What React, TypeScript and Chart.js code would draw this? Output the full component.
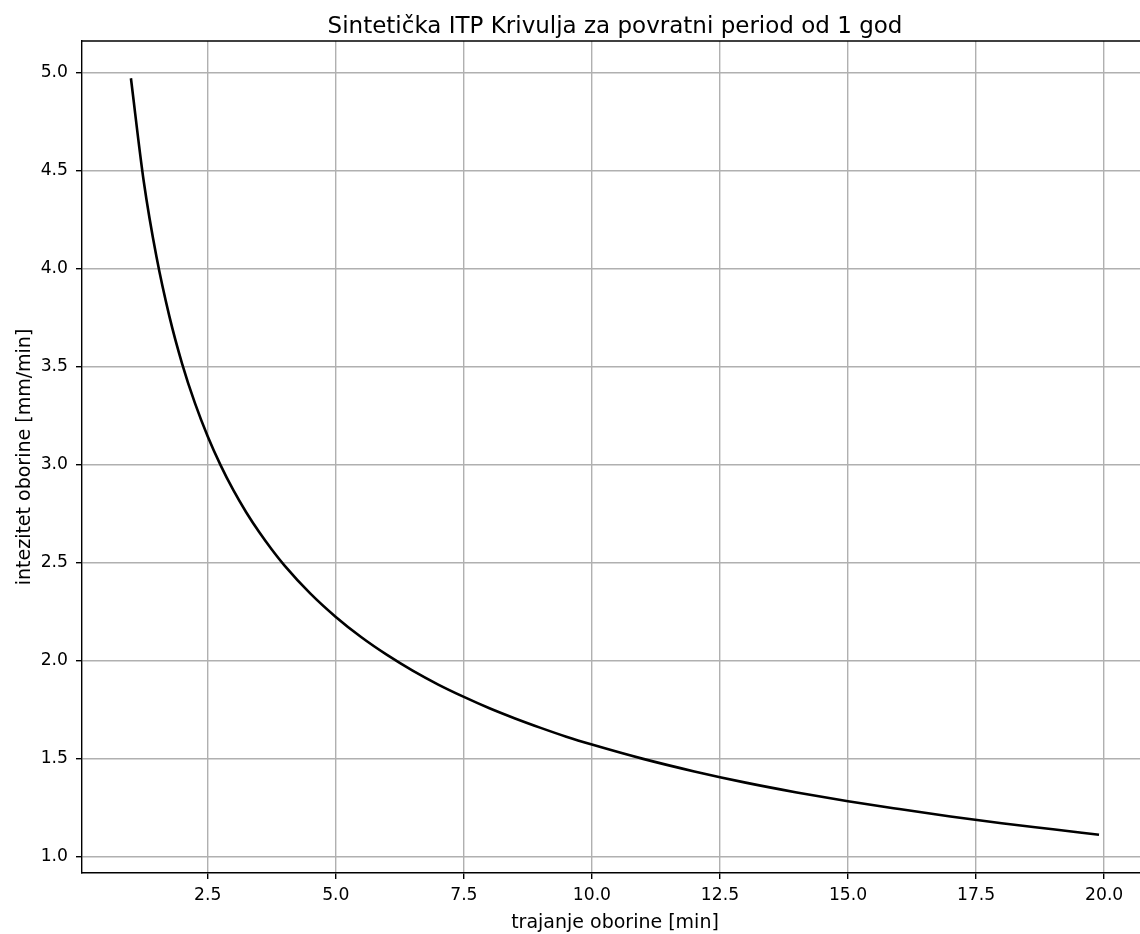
import React, { useEffect, useRef } from "react";
import { Chart, registerables } from "chart.js";

Chart.register(...registerables);

// ---- data ----
const durations = [1.0, 1.25, 1.5, 1.75, 2.0, 2.25, 2.5, 2.75, 3.0, 3.25, 3.5, 3.75, 4.0, 4.5, 5.0, 5.5, 6.0, 6.5, 7.0, 7.5, 8.0, 8.5, 9.0, 9.5, 10, 11, 12, 13, 14, 15, 16, 17, 18, 19, 19.9];
const intensities = [4.970, 4.445, 4.058, 3.757, 3.514, 3.313, 3.143, 2.997, 2.869, 2.757, 2.657, 2.567, 2.485, 2.343, 2.223, 2.119, 2.029, 1.949, 1.878, 1.815, 1.757, 1.705, 1.657, 1.612, 1.572, 1.499, 1.435, 1.378, 1.328, 1.283, 1.243, 1.205, 1.171, 1.140, 1.112];
const xTickValues = [2.5, 5.0, 7.5, 10.0, 12.5, 15.0, 17.5, 20.0];
const yTickValues = [1.0, 1.5, 2.0, 2.5, 3.0, 3.5, 4.0, 4.5, 5.0];
const titleText = "Sintetička ITP Krivulja za povratni period od 1 god";
const xLabel = "trajanje oborine [min]";
const yLabel = "intezitet oborine [mm/min]";

// ---- layout / style ----
const W = 1140;
const H = 934;
const AREA_LEFT = 82;
const AREA_TOP = 41;
const AREA_BOTTOM = 873;
const X_MIN = 0.045;
const X_MAX = 20.7;
const Y_MIN = 0.917;
const Y_MAX = 5.16;
const CENTER_X = 615;
const TITLE_BASELINE_Y = 32.5;
const XLABEL_BASELINE_Y = 928;
const YLABEL_BASELINE_X = 29.5;
const YLABEL_CENTER_Y = 457;
const FONT = "'DejaVu Sans', sans-serif";
const TICK_SIZE = 17.2;
const LABEL_SIZE = 19;
const TITLE_SIZE = 23;

const framePlugin = {
  id: "frameAndTitle",
  afterDraw(chart: any) {
    const { ctx, chartArea } = chart;
    ctx.save();
    ctx.strokeStyle = "#000";
    ctx.lineWidth = 1.4;
    ctx.beginPath();
    ctx.moveTo(chartArea.left, chartArea.top);
    ctx.lineTo(chartArea.right, chartArea.top);
    ctx.stroke();
    ctx.fillStyle = "#000";
    ctx.textAlign = "center";
    ctx.textBaseline = "alphabetic";
    ctx.font = `${TITLE_SIZE}px ${FONT}`;
    ctx.fillText(titleText, CENTER_X, TITLE_BASELINE_Y);
    ctx.font = `${LABEL_SIZE}px ${FONT}`;
    ctx.fillText(xLabel, CENTER_X, XLABEL_BASELINE_Y);
    ctx.translate(YLABEL_BASELINE_X, YLABEL_CENTER_Y);
    ctx.rotate(-Math.PI / 2);
    ctx.fillText(yLabel, 0, 0);
    ctx.restore();
  },
};

export default function App() {
  const ref = useRef<HTMLCanvasElement | null>(null);

  useEffect(() => {
    document.body.style.margin = "0";
    const canvas = ref.current;
    if (!canvas) return;
    const points = durations.map((d, i) => ({ x: d, y: intensities[i] }));
    const chart = new Chart(canvas, {
      type: "line",
      data: {
        datasets: [
          {
            data: points,
            borderColor: "#000",
            borderWidth: 2.6,
            pointRadius: 0,
            fill: false,
            cubicInterpolationMode: "monotone",
          },
        ],
      },
      options: {
        animation: false,
        responsive: false,
        devicePixelRatio: 1,
        layout: { padding: { left: 0, right: 0, top: AREA_TOP, bottom: 0 } },
        plugins: { legend: { display: false }, title: { display: false }, tooltip: { enabled: false } },
        scales: {
          x: {
            type: "linear",
            min: X_MIN,
            max: X_MAX,
            afterBuildTicks: (scale: any) => {
              scale.ticks = xTickValues.map((v) => ({ value: v }));
            },
            afterFit: (scale: any) => {
              scale.height = H - AREA_BOTTOM;
            },
            grid: { color: "#b0b0b0", lineWidth: 1.4, tickColor: "#000", tickLength: 6, drawTicks: true },
            border: { color: "#000", width: 1.4 },
            ticks: {
              color: "#000",
              font: { family: FONT, size: TICK_SIZE },
              padding: 6,
              maxRotation: 0,
              callback: (v: any) => Number(v).toFixed(1),
            },
          },
          y: {
            type: "linear",
            min: Y_MIN,
            max: Y_MAX,
            afterBuildTicks: (scale: any) => {
              scale.ticks = yTickValues.map((v) => ({ value: v }));
            },
            afterFit: (scale: any) => {
              scale.width = AREA_LEFT;
            },
            grid: { color: "#b0b0b0", lineWidth: 1.4, tickColor: "#000", tickLength: 6, drawTicks: true },
            border: { color: "#000", width: 1.4 },
            ticks: {
              color: "#000",
              font: { family: FONT, size: TICK_SIZE },
              padding: 8,
              callback: (v: any) => Number(v).toFixed(1),
            },
          },
        },
      },
      plugins: [framePlugin],
    } as any);
    return () => chart.destroy();
  }, []);

  return (
    <div style={{ width: W, height: H, background: "#fff" }}>
      <canvas ref={ref} width={W} height={H} style={{ display: "block" }} />
    </div>
  );
}
